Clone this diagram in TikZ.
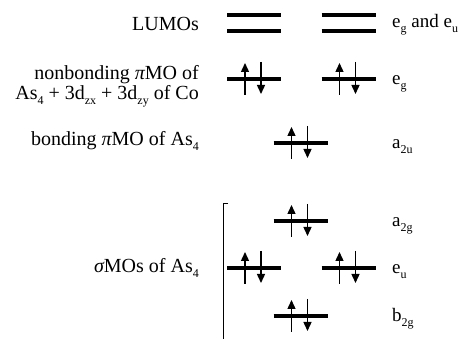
\documentclass[tikz,border=0pt]{standalone}
\usepackage{fontspec}
\setmainfont{Liberation Serif}
\usetikzlibrary{arrows.meta}
\newcommand{\mylevel}[3]{%
  \coordinate (#1l) at (#2-27,#3);
  \coordinate (#1r) at (#2+27,#3);
  \draw[lvl] (#1l) -- (#1r);
}
\newcommand{\mypair}[3]{%
  \coordinate (#1ua) at (#2-9,#3+16);
  \coordinate (#1ub) at (#2-9,#3-16);
  \coordinate (#1da) at (#2+7,#3-17);
  \coordinate (#1db) at (#2+7,#3+15);
  \draw[spin] (#1ua) -- (#1ub);
  \draw[spin] (#1da) -- (#1db);
}
\newcommand{\sbs}[1]{\raisebox{-0.22em}{\fontsize{12}{12}\selectfont #1}}
\begin{document}
\begin{tikzpicture}[x=1pt,y=-1pt,
  lvl/.style={line width=3.2pt},
  spin/.style={line width=1.4pt,-{Triangle[width=8pt,length=9pt]}},
  lab/.style={font=\fontsize{20}{18.5}\selectfont,anchor=base east,inner sep=0pt,align=right},
  sym/.style={font=\fontsize{19}{22}\selectfont,anchor=base west,inner sep=0pt}]
\useasboundingbox (0,0) rectangle (467,339);
% LUMOs
\mylevel{lumoAa}{254}{15}
\mylevel{lumoAb}{254}{31}
\mylevel{lumoBa}{348.5}{15}
\mylevel{lumoBb}{348.5}{31}
% nonbonding e_g
\mylevel{nbA}{254}{79}\mypair{nbA}{254}{79}
\mylevel{nbB}{348.5}{79}\mypair{nbB}{348.5}{79}
% a2u
\mylevel{aa}{300.5}{143}\mypair{aa}{300.5}{143}
% a2g
\mylevel{ag}{300.5}{221}\mypair{ag}{300.5}{221}
% e_u
\mylevel{euA}{254}{268}\mypair{euA}{254}{268}
\mylevel{euB}{348.5}{268}\mypair{euB}{348.5}{268}
% b2g
\mylevel{bg}{300.5}{316}\mypair{bg}{300.5}{316}
% bracket
\coordinate (brt) at (228,203);
\coordinate (brc) at (223,203);
\coordinate (brb) at (223,339);
\draw[line width=0.9pt] (brt) -- (brc) -- (brb);
% left labels
\node[lab] (tl1) at (199,31) {LUMOs};
\node[lab] (tl2) at (199,80) {nonbonding {\itshape π}MO of};
\node[lab] (tl3) at (199,100) {As\sbs{4} + 3d\sbs{zx} + 3d\sbs{zy} of Co};
\node[lab] (tl4) at (199,146) {bonding {\itshape π}MO of As\sbs{4}};
\node[lab] (tl5) at (199,273) {{\itshape σ}MOs of As\sbs{4}};
% right labels
\node[sym] (r1) at (392,28) {e\sbs{g} and e\sbs{u}};
\node[sym] (r2) at (392,85) {e\sbs{g}};
\node[sym] (r3) at (392,149) {a\sbs{2u}};
\node[sym] (r4) at (392,227) {a\sbs{2g}};
\node[sym] (r5) at (392,274) {e\sbs{u}};
\node[sym] (r6) at (392,322) {b\sbs{2g}};
\end{tikzpicture}
\end{document}
